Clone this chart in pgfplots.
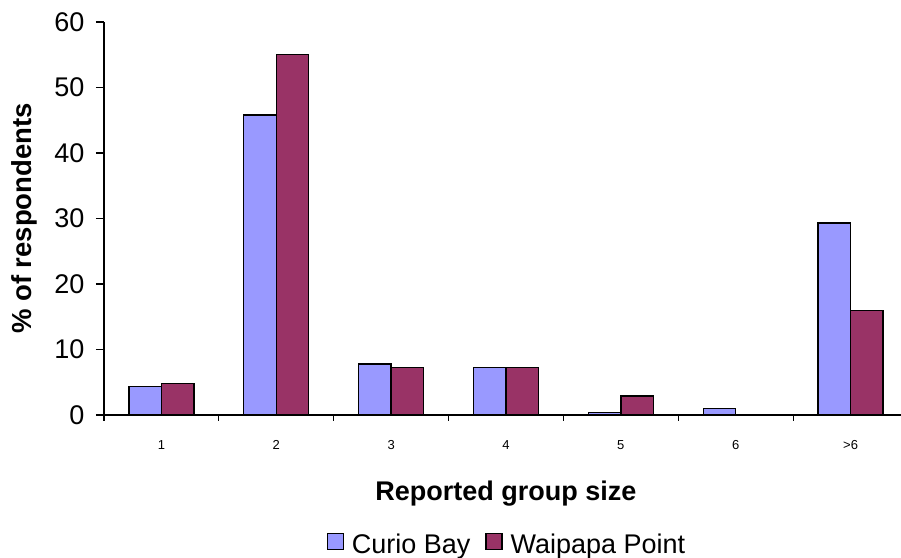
\documentclass[border=0pt]{standalone}
\usepackage{pgfplots}
\pgfplotsset{compat=1.18}
\usepackage{fontspec}
\setmainfont{Liberation Sans}
\definecolor{curio}{HTML}{9999FF}
\definecolor{waipapa}{HTML}{993366}
\begin{document}
\begin{tikzpicture}
\begin{axis}[
  scale only axis,
  width=804pt, height=393pt,
  ybar=0pt, bar width=32.5pt,
  xmin=-0.5, xmax=6.5, ymin=0, ymax=60,
  enlargelimits=false,
  axis x line*=bottom, axis y line*=left,
  axis line style={black, line width=1.2pt, -},
  xtick={0,1,2,3,4,5,6},
  xticklabels={1,2,3,4,5,6,>6},
  major x tick style={draw=none},
  minor xtick={-0.5,0.5,1.5,2.5,3.5,4.5,5.5,6.5},
  minor x tick style={black, line width=1.2pt},
  minor tick length=6pt,
  ytick={0,10,20,30,40,50,60},
  y tick style={black, line width=1.2pt},
  major tick length=8pt,
  tick align=outside,
  /pgf/number format/assume math mode=true,
  yticklabel style={font=\fontsize{27}{30}\selectfont, xshift=-8pt},
  xticklabel style={font=\fontsize{13}{15}\selectfont, yshift=-14pt},
  xlabel={Reported group size},
  ylabel={\% of respondents},
  every axis x label/.style={at={(axis description cs:0.5,-0.2163)}, anchor=base, font=\fontsize{27}{30}\selectfont\bfseries},
  every axis y label/.style={at={(axis description cs:-0.0896,0.5)}, rotate=90, anchor=base, font=\fontsize{27.5}{30}\selectfont\bfseries},
  legend columns=-1,
  legend style={draw=none, fill=none, at={(axis description cs:0.5,-0.328)}, anchor=center,
    font=\fontsize{27}{30}\selectfont,
    nodes={inner sep=0pt},
    /tikz/every odd column/.style={column sep=8pt},
    /tikz/every even column/.style={column sep=15pt}},
  legend image code/.code={\draw[#1, line width=1.2pt] (0pt,-5pt) rectangle (16pt,11pt);},
]
\addplot[fill=curio, draw=black, line width=1.3pt] coordinates {(0,4.4) (1,45.8) (2,7.8) (3,7.3) (4,0.4) (5,1.0) (6,29.3)};
\addplot[fill=waipapa, draw=black, line width=1.3pt] coordinates {(0,4.8) (1,55.0) (2,7.3) (3,7.3) (4,2.9) (5,0) (6,16.0)};
\legend{Curio Bay, Waipapa Point}
\end{axis}
\pgfresetboundingbox
\path[use as bounding box] ([shift={(-104pt,-143pt)}]current axis.south west) rectangle ([shift={(-7pt,22pt)}]current axis.north east);
\end{tikzpicture}
\end{document}
